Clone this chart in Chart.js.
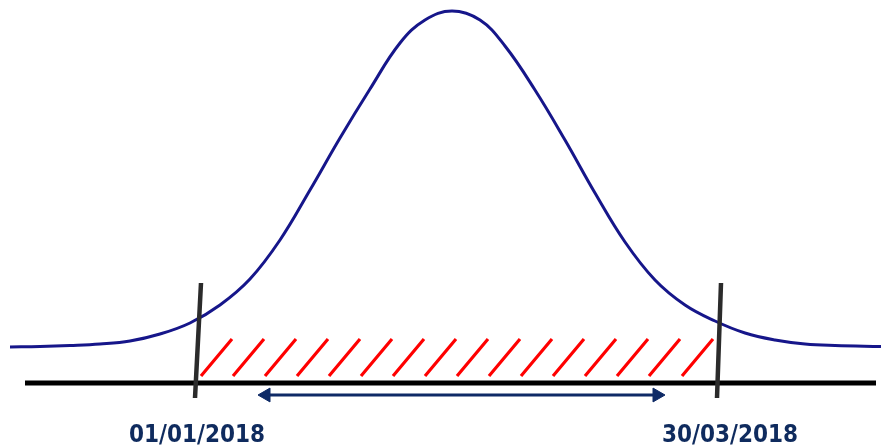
<!DOCTYPE html>
<html>
<head>
<meta charset="utf-8">
<script src="https://cdn.jsdelivr.net/npm/chart.js@4.4.1/dist/chart.umd.min.js"></script>
<style>
  html, body { margin: 0; padding: 0; background: #ffffff; }
  #wrap { width: 881px; height: 448px; position: relative; }
</style>
</head>
<body>
<div id="wrap"><canvas id="c"></canvas></div>
<script>
// Bell curve (x position, height)
const curveX = [10, 40, 70, 100, 130, 160, 190, 220, 250, 280, 310, 340, 370, 400, 425, 452,
                480, 505, 535, 565, 595, 625, 655, 685, 715, 745, 775, 805, 835, 881];
const curveY = [101, 101.5, 102.5, 104, 107, 114, 125, 143, 169, 208, 258, 310, 359, 405, 428, 437,
                428, 402, 358, 308, 255, 206, 168, 143, 127, 115, 108, 104, 102.5, 101.5];

// Baseline
const baseX = [25, 876];
const baseY = 65;

// Period markers (slanted bars): top and bottom
const markerTopX = [201, 721];
const markerBottomX = [195, 717];
const markerTopY = 165;
const markerBottomY = 50;

// Hatching strokes: bottom x of each stroke
const hatchBottomX = [201, 233, 265, 297, 329, 361, 393, 425, 457, 489, 521, 553, 585, 617, 649, 682];
const hatchRun = 31;
const hatchBottomY = 72;
const hatchTopY = 109;

// Double arrow
const arrowX = [258, 665];
const arrowY = 53;

// Date labels
const dateLabels = ['01/01/2018', '30/03/2018'];
const dateLabelX = [197, 730];

// ---- build datasets ----
const curveData = curveX.map((x, i) => ({ x, y: curveY[i] }));
const baseData = baseX.map(x => ({ x, y: baseY }));
const markerData = [];
markerTopX.forEach((tx, i) => {
  markerData.push({ x: tx, y: markerTopY });
  markerData.push({ x: markerBottomX[i], y: markerBottomY });
  markerData.push({ x: tx, y: null });
});
const hatchData = [];
hatchBottomX.forEach(bx => {
  hatchData.push({ x: bx, y: hatchBottomY });
  hatchData.push({ x: bx + hatchRun, y: hatchTopY });
  hatchData.push({ x: bx + hatchRun, y: null });
});
const headR = 8;
const arrowLine = [{ x: arrowX[0] + 4, y: arrowY }, { x: arrowX[1] - 4, y: arrowY }];
const arrowHeads = [{ x: arrowX[0] + headR, y: arrowY }, { x: arrowX[1] - headR, y: arrowY }];

const labelPlugin = {
  id: 'dateLabels',
  afterDatasetsDraw(chart) {
    const ctx = chart.ctx;
    const xs = chart.scales.x;
    ctx.save();
    ctx.fillStyle = '#0f2b5e';
    ctx.font = "bold 24px 'DejaVu Sans Condensed', 'Open Sans', sans-serif";
    ctx.textAlign = 'center';
    ctx.textBaseline = 'alphabetic';
    dateLabels.forEach((t, i) => {
      ctx.fillText(t, xs.getPixelForValue(dateLabelX[i]), 442);
    });
    ctx.restore();
  }
};

new Chart(document.getElementById('c'), {
  type: 'line',
  data: {
    datasets: [
      { data: markerData, borderColor: '#2b2b2b', borderWidth: 4.5, pointRadius: 0, spanGaps: false, order: 0, borderCapStyle: 'butt' },
      { data: arrowHeads, showLine: false, pointStyle: 'triangle', pointRadius: headR, pointRotation: [-90, 90],
        backgroundColor: '#0e2a66', borderColor: '#0e2a66', borderWidth: 1, order: 1 },
      { data: arrowLine, borderColor: '#0e2a66', borderWidth: 3, pointRadius: 0, order: 2 },
      { data: baseData, borderColor: '#000000', borderWidth: 5, pointRadius: 0, order: 3 },
      { data: hatchData, borderColor: '#ff0000', borderWidth: 3.2, pointRadius: 0, spanGaps: false, order: 4 },
      { data: curveData, borderColor: '#16168a', borderWidth: 3, pointRadius: 0, tension: 0.4, order: 5 }
    ]
  },
  options: {
    responsive: true,
    maintainAspectRatio: false,
    animation: false,
    layout: { padding: 0, autoPadding: false },
    plugins: { legend: { display: false }, tooltip: { enabled: false } },
    scales: {
      x: { type: 'linear', min: 0, max: 881, display: false },
      y: { type: 'linear', min: 0, max: 448, display: false }
    }
  },
  plugins: [labelPlugin]
});
</script>
</body>
</html>
